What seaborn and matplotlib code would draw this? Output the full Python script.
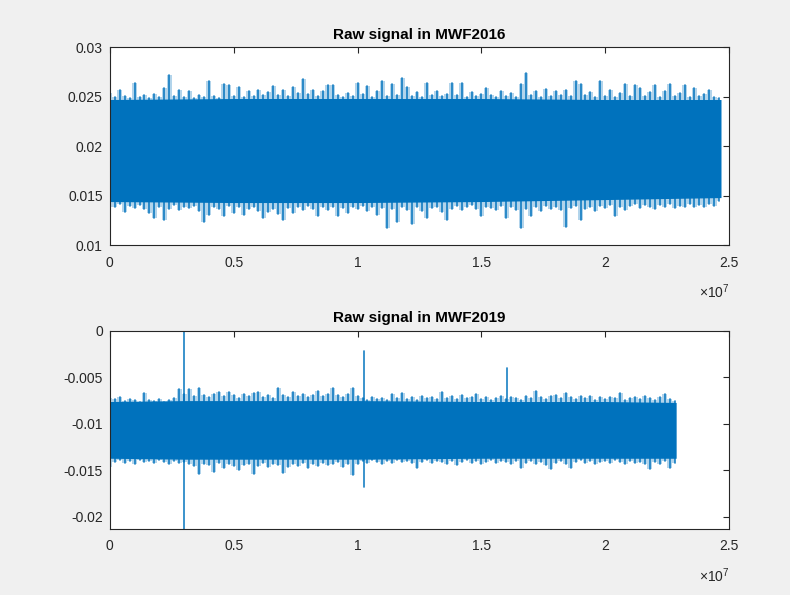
import numpy as np
import pandas as pd
import matplotlib
matplotlib.use('Agg')
import matplotlib.pyplot as plt
import seaborn as sns

# ----------------------------------------------------------
# data: binned envelope of the raw signals (x in units of 1e7 samples)
# ----------------------------------------------------------
bin_step = 0.02

# MWF2016
top_hi = [0.0254, 0.0250, 0.0257, 0.0251, 0.0249, 0.0264, 0.0250, 0.0252, 0.0249, 0.0253,
          0.0250, 0.0259, 0.0272, 0.0251, 0.0257, 0.0250, 0.0256, 0.0249, 0.0252, 0.0250,
          0.0266, 0.0251, 0.0249, 0.0263, 0.0262, 0.0251, 0.0260, 0.0250, 0.0256, 0.0251,
          0.0257, 0.0252, 0.0255, 0.0261, 0.0252, 0.0257, 0.0251, 0.0260, 0.0254, 0.0268,
          0.0253, 0.0257, 0.0251, 0.0256, 0.0262, 0.0262, 0.0252, 0.0250, 0.0254, 0.0251,
          0.0264, 0.0253, 0.0261, 0.0250, 0.0256, 0.0266, 0.0251, 0.0263, 0.0252, 0.0269,
          0.0260, 0.0251, 0.0255, 0.0250, 0.0264, 0.0252, 0.0256, 0.0251, 0.0253, 0.0264,
          0.0252, 0.0264, 0.0250, 0.0255, 0.0251, 0.0253, 0.0259, 0.0252, 0.0250, 0.0256,
          0.0251, 0.0254, 0.0250, 0.0263, 0.0274, 0.0252, 0.0256, 0.0250, 0.0258, 0.0251,
          0.0256, 0.0252, 0.0257, 0.0251, 0.0266, 0.0263, 0.0252, 0.0255, 0.0250, 0.0266,
          0.0251, 0.0257, 0.0250, 0.0254, 0.0263, 0.0251, 0.0262, 0.0259, 0.0251, 0.0255,
          0.0262, 0.0250, 0.0256, 0.0263, 0.0251, 0.0254, 0.0262, 0.0250, 0.0259, 0.0251,
          0.0253, 0.0257, 0.0250, 0.0249]
top_lo = [0.0138, 0.0139, 0.0142, 0.0133, 0.0140, 0.0137, 0.0141, 0.0136, 0.0132, 0.0127,
          0.0139, 0.0125, 0.0136, 0.0141, 0.0135, 0.0139, 0.0137, 0.0140, 0.0134, 0.0123,
          0.0130, 0.0138, 0.0136, 0.0129, 0.0140, 0.0132, 0.0138, 0.0130, 0.0136, 0.0139,
          0.0134, 0.0127, 0.0133, 0.0136, 0.0131, 0.0125, 0.0137, 0.0132, 0.0138, 0.0135,
          0.0140, 0.0136, 0.0129, 0.0138, 0.0135, 0.0139, 0.0129, 0.0137, 0.0132, 0.0139,
          0.0136, 0.0140, 0.0134, 0.0138, 0.0130, 0.0137, 0.0117, 0.0136, 0.0123, 0.0138,
          0.0135, 0.0121, 0.0139, 0.0134, 0.0127, 0.0137, 0.0139, 0.0133, 0.0125, 0.0136,
          0.0140, 0.0135, 0.0138, 0.0141, 0.0136, 0.0129, 0.0139, 0.0137, 0.0135, 0.0140,
          0.0127, 0.0138, 0.0135, 0.0117, 0.0136, 0.0129, 0.0139, 0.0134, 0.0140, 0.0136,
          0.0138, 0.0135, 0.0118, 0.0137, 0.0140, 0.0125, 0.0136, 0.0139, 0.0134, 0.0140,
          0.0137, 0.0141, 0.0129, 0.0138, 0.0135, 0.0140, 0.0142, 0.0137, 0.0141, 0.0139,
          0.0136, 0.0141, 0.0138, 0.0142, 0.0137, 0.0140, 0.0139, 0.0142, 0.0138, 0.0141,
          0.0139, 0.0142, 0.0140, 0.0145]
top_core_x = [0.0, 0.5, 1.0, 1.5, 2.0, 2.467]
top_core_hi = [0.0247, 0.0248, 0.0248, 0.0248, 0.0247, 0.0247]
top_core_lo = [0.0144, 0.0143, 0.0143, 0.0144, 0.0146, 0.0148]

# MWF2019
bot_hi = [-0.0072, -0.0073, -0.0071, -0.0075, -0.0073, -0.0074, -0.0076, -0.0067, -0.0074, -0.0075,
          -0.0073, -0.0076, -0.0074, -0.0072, -0.0063, -0.0068, -0.0063, -0.0070, -0.0061, -0.0069,
          -0.0071, -0.0068, -0.0066, -0.0070, -0.0066, -0.0069, -0.0072, -0.0068, -0.0070, -0.0067,
          -0.0066, -0.0071, -0.0069, -0.0072, -0.0061, -0.0069, -0.0071, -0.0066, -0.0070, -0.0068,
          -0.0071, -0.0069, -0.0065, -0.0070, -0.0068, -0.0061, -0.0069, -0.0071, -0.0068, -0.0061,
          -0.0070, -0.0072, -0.0074, -0.0071, -0.0073, -0.0072, -0.0074, -0.0068, -0.0072, -0.0067,
          -0.0073, -0.0071, -0.0074, -0.0070, -0.0072, -0.0071, -0.0073, -0.0066, -0.0072, -0.0070,
          -0.0073, -0.0069, -0.0072, -0.0071, -0.0068, -0.0073, -0.0071, -0.0074, -0.0072, -0.0070,
          -0.0073, -0.0071, -0.0072, -0.0074, -0.0070, -0.0072, -0.0065, -0.0071, -0.0073, -0.0070,
          -0.0069, -0.0072, -0.0067, -0.0071, -0.0073, -0.0070, -0.0072, -0.0070, -0.0074, -0.0071,
          -0.0073, -0.0071, -0.0072, -0.0067, -0.0074, -0.0072, -0.0071, -0.0073, -0.0070, -0.0072,
          -0.0074, -0.0071, -0.0068, -0.0073, -0.0075]
bot_lo = [-0.0146, -0.0141, -0.0139, -0.0142, -0.0140, -0.0143, -0.0139, -0.0141, -0.0140, -0.0142,
          -0.0139, -0.0141, -0.0143, -0.0140, -0.0142, -0.0141, -0.0143, -0.0145, -0.0154, -0.0143,
          -0.0144, -0.0152, -0.0142, -0.0148, -0.0143, -0.0145, -0.0150, -0.0144, -0.0143, -0.0154,
          -0.0145, -0.0142, -0.0146, -0.0143, -0.0144, -0.0153, -0.0146, -0.0143, -0.0145, -0.0142,
          -0.0147, -0.0143, -0.0145, -0.0142, -0.0144, -0.0143, -0.0141, -0.0146, -0.0143, -0.0155,
          -0.0143, -0.0140, -0.0142, -0.0139, -0.0141, -0.0143, -0.0140, -0.0142, -0.0139, -0.0141,
          -0.0140, -0.0142, -0.0147, -0.0141, -0.0139, -0.0142, -0.0140, -0.0141, -0.0143, -0.0140,
          -0.0144, -0.0141, -0.0139, -0.0142, -0.0140, -0.0143, -0.0141, -0.0139, -0.0142, -0.0140,
          -0.0141, -0.0143, -0.0140, -0.0148, -0.0142, -0.0140, -0.0143, -0.0141, -0.0144, -0.0149,
          -0.0142, -0.0140, -0.0143, -0.0147, -0.0141, -0.0139, -0.0142, -0.0140, -0.0143, -0.0141,
          -0.0140, -0.0142, -0.0139, -0.0141, -0.0143, -0.0140, -0.0142, -0.0141, -0.0143, -0.0149,
          -0.0141, -0.0143, -0.0140, -0.0147, -0.0142]
bot_core_x = [0.0, 0.3, 1.0, 1.5, 2.0, 2.286]
bot_core_hi = [-0.0076, -0.0075, -0.0075, -0.0076, -0.0076, -0.0077]
bot_core_lo = [-0.0137, -0.0138, -0.0138, -0.0137, -0.0137, -0.0137]
# isolated artefacts in MWF2019
bot_ev_x = [0.299, 1.026, 1.603]
bot_ev_hi = [0.0, -0.0022, -0.0040]
bot_ev_lo = [-0.0213, -0.0168, -0.0126]

titles = ['Raw signal in MWF2016', 'Raw signal in MWF2019']
xticks = [0, 0.5, 1, 1.5, 2, 2.5]
xticklabels = ['0', '0.5', '1', '1.5', '2', '2.5']
top_yticks = [0.01, 0.015, 0.02, 0.025, 0.03]
top_yticklabels = ['0.01', '0.015', '0.02', '0.025', '0.03']
bot_yticks = [-0.02, -0.015, -0.01, -0.005, 0]
bot_yticklabels = ['-0.02', '-0.015', '-0.01', '-0.005', '0']

# ----------------------------------------------------------
# style
# ----------------------------------------------------------
sns.set_style('white')
plt.rcParams['font.family'] = ['Liberation Sans', 'DejaVu Sans']
plt.rcParams['mathtext.fontset'] = 'custom'
plt.rcParams['mathtext.rm'] = 'Liberation Sans'
blue = '#0072BD'
dark = '#262626'


def draw_signal(ax, hi, lo, core_x, core_hi, core_lo, ev_x=(), ev_hi=(), ev_lo=()):
    xs = np.round(np.arange(len(hi)) * bin_step, 3)
    rows = []
    for k, (x, h, l) in enumerate(zip(xs, hi, lo)):
        rows.append((k, x, l))
        rows.append((k, x, h))
    for k, (x, h, l) in enumerate(zip(ev_x, ev_hi, ev_lo)):
        rows.append((1000 + k, x, l))
        rows.append((1000 + k, x, h))
    df = pd.DataFrame(rows, columns=['unit', 'x', 'y'])
    # light haze of the dense samples
    ax.fill_between(xs, lo, hi, step='mid', color=blue, alpha=0.3, lw=0)
    # individual peaks
    sns.lineplot(data=df, x='x', y='y', units='unit', estimator=None, sort=False,
                 color=blue, lw=1.2, alpha=0.9, legend=False, ax=ax)
    # solid body of the signal
    ax.fill_between(core_x, core_lo, core_hi, color=blue, lw=0)


def style_axes(ax, title, yticks, yticklabels, ylim):
    ax.set_xlim(0, 2.5)
    ax.set_ylim(*ylim)
    ax.set_xticks(xticks)
    ax.set_xticklabels(xticklabels)
    ax.set_yticks(yticks)
    ax.set_yticklabels(yticklabels)
    ax.set_xlabel('')
    ax.set_ylabel('')
    ax.set_title(title, fontsize=11, fontweight='bold', color='black', pad=6)
    ax.tick_params(direction='in', top=True, right=True, length=4, width=0.8,
                   colors=dark, labelsize=10)
    ax.tick_params(axis='x', pad=7.5)
    ax.tick_params(axis='y', pad=5)
    for sp in ax.spines.values():
        sp.set_color(dark)
        sp.set_linewidth(0.8)
        sp.set_visible(True)
    ax.text(1.0, -0.235, r'$\times10^{7}$', transform=ax.transAxes, ha='right',
            va='center', fontsize=10, color=dark)


fig = plt.figure(figsize=(7.9, 5.95), dpi=100)
fig.patch.set_facecolor('#f0f0f0')
ax1 = fig.add_axes([0.139, 0.588, 0.784, 0.333])
ax2 = fig.add_axes([0.139, 0.111, 0.784, 0.333])

draw_signal(ax1, top_hi, top_lo, top_core_x, top_core_hi, top_core_lo)
style_axes(ax1, titles[0], top_yticks, top_yticklabels, (0.01, 0.03))

draw_signal(ax2, bot_hi, bot_lo, bot_core_x, bot_core_hi, bot_core_lo,
            bot_ev_x, bot_ev_hi, bot_ev_lo)
style_axes(ax2, titles[1], bot_yticks, bot_yticklabels, (-0.0213, 0))

fig.savefig('out.png', dpi=100, facecolor=fig.get_facecolor())
